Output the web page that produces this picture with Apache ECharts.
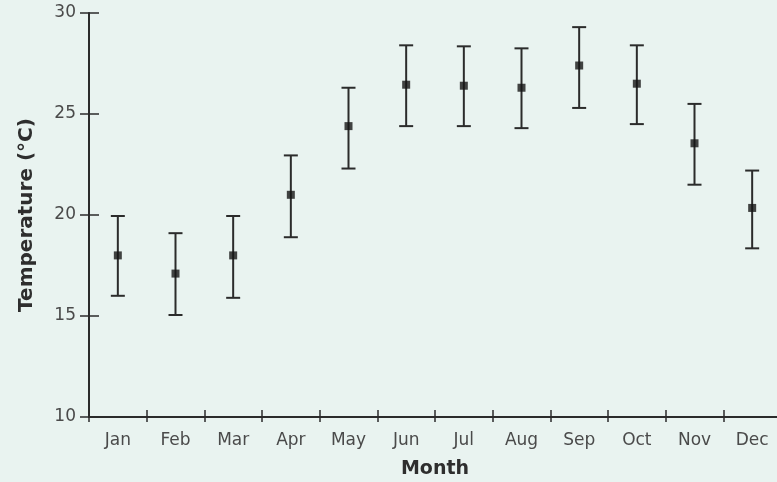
<!DOCTYPE html>
<html>
<head>
<meta charset="utf-8">
<script src="https://cdn.jsdelivr.net/npm/echarts@6/dist/echarts.min.js"></script>
<style>
html,body{margin:0;padding:0;background:#e9f3f0;}
#c{width:777px;height:482px;}
</style>
</head>
<body>
<div id="c"></div>
<script>
var months = ['Jan','Feb','Mar','Apr','May','Jun','Jul','Aug','Sep','Oct','Nov','Dec'];
var means  = [18.0, 17.1, 18.0, 21.0, 24.4, 26.45, 26.4, 26.3, 27.4, 26.5, 23.55, 20.35];
var upper  = [19.95, 19.1, 19.95, 22.95, 26.3, 28.4, 28.35, 28.25, 29.3, 28.4, 25.5, 22.2];
var lower  = [16.0, 15.05, 15.9, 18.9, 22.3, 24.4, 24.4, 24.3, 25.3, 24.5, 21.5, 18.35];
var yTicks = [10, 15, 20, 25, 30];

var ink = '#2b2b2b';
var font = 'DejaVu Sans';
var chart = echarts.init(document.getElementById('c'), null, {renderer:'canvas'});

var errData = months.map(function(m,i){ return [i, lower[i], upper[i]]; });
var ptData = months.map(function(m,i){ return [i, means[i]]; });

chart.setOption({
  backgroundColor: '#e9f3f0',
  animation: false,
  grid: {left: 89, top: 13, bottom: 65, right: -4, containLabel: false, outerBoundsMode: 'none'},
  xAxis: [{
    type: 'category', data: months, boundaryGap: true,
    axisLine: {lineStyle: {color: ink, width: 2}},
    axisTick: {show: true, length: 5, alignWithLabel: false, lineStyle: {color: ink, width: 1.5}},
    axisLabel: {color: '#4a4a4a', fontFamily: font, fontSize: 17, margin: 15},
    name: 'Month', nameLocation: 'middle', nameGap: 43,
    nameTextStyle: {color: '#2e2e2e', fontFamily: font, fontSize: 19, fontWeight: 'bold'}
  },{
    type: 'category', data: months, boundaryGap: true, position: 'bottom',
    axisLine: {show: false},
    axisTick: {show: true, inside: true, length: 7, lineStyle: {color: ink, width: 1.5}},
    axisLabel: {show: false}
  }],
  yAxis: [{
    type: 'value', min: 10, max: 30, interval: 5,
    axisLine: {show: true, lineStyle: {color: ink, width: 2}},
    axisTick: {show: true, length: 9, lineStyle: {color: ink, width: 1.5}},
    splitLine: {show: false},
    axisLabel: {color: '#4a4a4a', fontFamily: font, fontSize: 17, margin: 13,
      formatter: function(v){ return yTicks.indexOf(v) >= 0 ? String(v) : ''; }},
    name: 'Temperature (°C)', nameLocation: 'middle', nameGap: 52,
    nameTextStyle: {color: '#2e2e2e', fontFamily: font, fontSize: 20, fontWeight: 'bold'}
  },{
    type: 'value', min: 10, max: 30, interval: 5, position: 'left',
    axisLine: {show: false},
    axisTick: {show: true, inside: true, length: 10, lineStyle: {color: ink, width: 1.5}},
    splitLine: {show: false},
    axisLabel: {show: false}
  }],
  series: [{
    type: 'custom',
    xAxisIndex: 0, yAxisIndex: 0,
    data: errData,
    renderItem: function(params, api){
      var x = api.value(0);
      var lo = api.coord([x, api.value(1)]);
      var hi = api.coord([x, api.value(2)]);
      var hw = 7;
      var st = {stroke: ink, lineWidth: 2};
      return {type: 'group', children: [
        {type: 'line', shape: {x1: lo[0], y1: lo[1], x2: hi[0], y2: hi[1]}, style: st},
        {type: 'line', shape: {x1: hi[0]-hw, y1: hi[1], x2: hi[0]+hw, y2: hi[1]}, style: st},
        {type: 'line', shape: {x1: lo[0]-hw, y1: lo[1], x2: lo[0]+hw, y2: lo[1]}, style: st}
      ]};
    },
    z: 2
  },{
    type: 'scatter',
    xAxisIndex: 0, yAxisIndex: 0,
    data: ptData,
    symbol: 'rect', symbolSize: 8,
    itemStyle: {color: '#151515'},
    z: 3
  }]
});
</script>
</body>
</html>
